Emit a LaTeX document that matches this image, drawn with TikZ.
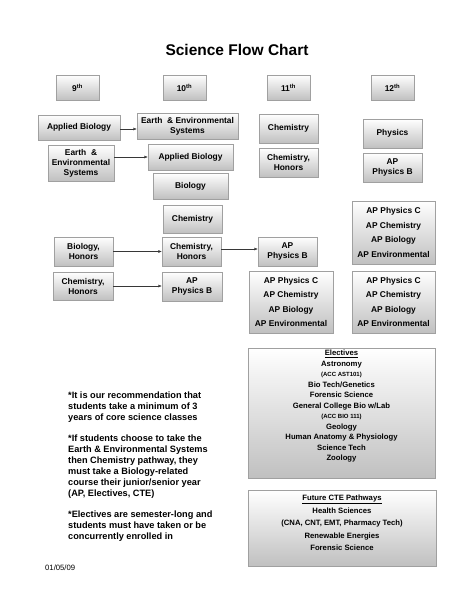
\documentclass[tikz,border=0pt]{standalone}
\usepackage{fontspec}
\setmainfont{Liberation Sans}
\usetikzlibrary{arrows.meta, positioning}
\definecolor{boxedge}{RGB}{160,160,160}
\definecolor{boxbottom}{RGB}{192,192,192}
\definecolor{inkgray}{RGB}{55,55,55}
\newcommand{\smallline}[1]{{\fontsize{6}{9}\selectfont #1}}

\begin{document}
\begin{tikzpicture}[x=1pt, y=-1pt,
  every node/.style={font=\fontsize{8.4}{10}\selectfont\bfseries, inner sep=0pt},
  coursebox/.style={draw=boxedge, top color=white, bottom color=boxbottom, align=center},
  apbox/.style={coursebox, font=\fontsize{8.4}{14.5}\selectfont\bfseries},
  paneltext/.style={align=center, font=\fontsize{7.7}{10.5}\selectfont\bfseries},
  link/.style={draw=inkgray, thin, -{Latex[length=3.5pt,width=3pt]}}]
\useasboundingbox (0,0) rectangle (474,611);

\node[font=\fontsize{15.5}{18}\selectfont\bfseries] (title) at (237,50) {Science Flow Chart};

% grade headers
\node[coursebox, minimum width=43, minimum height=25] (g9) at (77.5,87.5) {9\textsuperscript{th}};
\node[coursebox, minimum width=43, minimum height=25] (g10) at (184.5,87.5) {10\textsuperscript{th}};
\node[coursebox, minimum width=43, minimum height=25] (g11) at (288.5,87.5) {11\textsuperscript{th}};
\node[coursebox, minimum width=43, minimum height=25] (g12) at (392.5,87.5) {12\textsuperscript{th}};

% 9th grade
\node[coursebox, minimum width=82, minimum height=25] (applied9) at (79,127.5) {Applied Biology};
\node[coursebox, minimum width=66, minimum height=36] (earth9) at (81,163) {Earth \ \&\\Environmental\\Systems};
\node[coursebox, minimum width=59, minimum height=29] (biohon9) at (83.5,251.5) {Biology,\\Honors};
\node[coursebox, minimum width=60, minimum height=28] (chemhon9) at (83,286) {Chemistry,\\Honors};

% 10th grade
\node[coursebox, minimum width=101, minimum height=26] (earth10) at (187.5,126) {Earth \ \& Environmental\\Systems};
\node[coursebox, minimum width=85, minimum height=26] (applied10) at (190.5,157) {Applied Biology};
\node[coursebox, minimum width=75, minimum height=26] (bio10) at (190.5,186) {Biology};
\node[coursebox, minimum width=59, minimum height=28] (chem10) at (192.5,219) {Chemistry};
\node[coursebox, minimum width=59, minimum height=29] (chemhon10) at (191.5,251.5) {Chemistry,\\Honors};
\node[coursebox, minimum width=60, minimum height=29] (apphys10) at (192,286.5) {AP\\Physics B};

% 11th grade
\node[coursebox, minimum width=59, minimum height=29] (chem11) at (288.5,128.5) {Chemistry};
\node[coursebox, minimum width=59, minimum height=29] (chemhon11) at (288.5,162.5) {Chemistry,\\Honors};
\node[coursebox, minimum width=59, minimum height=29] (apphys11) at (287.5,251.5) {AP\\Physics B};
\node[apbox, minimum width=84, minimum height=62] (ap11) at (291,302) {AP Physics C\\AP Chemistry\\AP Biology\\AP Environmental};

% 12th grade
\node[coursebox, minimum width=59, minimum height=29] (phys12) at (392.5,133.5) {Physics};
\node[coursebox, minimum width=59, minimum height=29] (apphys12) at (392.5,167.5) {AP\\Physics B};
\node[apbox, minimum width=83, minimum height=63] (ap12a) at (393.5,232.5) {AP Physics C\\AP Chemistry\\AP Biology\\AP Environmental};
\node[apbox, minimum width=83, minimum height=62] (ap12b) at (393.5,302) {AP Physics C\\AP Chemistry\\AP Biology\\AP Environmental};

% electives and CTE panels
\node[coursebox, minimum width=187, minimum height=130] (elec) at (341.5,413) {};
\node[paneltext, below=2pt of elec.north] (electext) {\underline{Electives}\\Astronomy\\\smallline{(ACC AST101)}\\Bio Tech/Genetics\\Forensic Science\\General College Bio w/Lab\\\smallline{(ACC BIO 111)}\\Geology\\Human Anatomy \& Physiology\\Science Tech\\Zoology};
\node[coursebox, minimum width=188, minimum height=76] (cte) at (342,528) {};
\node[paneltext, below=5pt of cte.north, font=\fontsize{7.7}{12.5}\selectfont\bfseries] (ctetext) {\underline{Future CTE Pathways}\\Health Sciences\\(CNA, CNT, EMT, Pharmacy Tech)\\Renewable Energies\\Forensic Science};

% notes
\node[anchor=north west, align=left, font=\fontsize{9.2}{11}\selectfont\bfseries] (notes) at (68,392) {*It is our recommendation that\\students take a minimum of 3\\years of core science classes\\[10pt]*If students choose to take the\\Earth \& Environmental Systems\\then Chemistry pathway, they\\must take a Biology-related\\course their junior/senior year\\(AP, Electives, CTE)\\[10pt]*Electives are semester-long and\\students must have taken or be\\concurrently enrolled in};
\node[anchor=west, font=\fontsize{7.7}{9}\selectfont] (date) at (45,568) {01/05/09};

% connectors
\draw[link] (applied9.east |- 0,129) -- (earth10.west |- 0,129);
\draw[link] (earth9.east |- applied10.west) -- (applied10.west);
\draw[link] (biohon9.east) -- (chemhon10.west);
\draw[link] (chemhon10.east |- 0,249) -- (apphys11.west |- 0,249);
\draw[link] (chemhon9.east) -- (chemhon9.east -| apphys10.west);
\end{tikzpicture}
\end{document}
